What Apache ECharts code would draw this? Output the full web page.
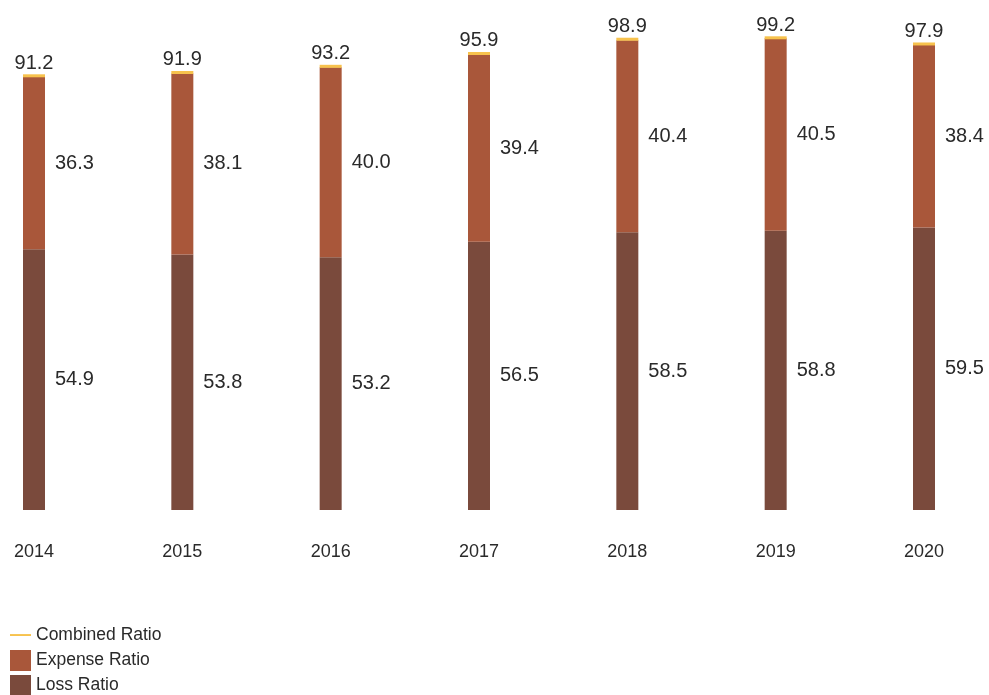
<!DOCTYPE html>
<html><head><meta charset="utf-8">
<script src="https://cdn.jsdelivr.net/npm/echarts@6/dist/echarts.min.js"></script>
<style>html,body{margin:0;padding:0;background:#fff}#c{width:989px;height:695px}</style>
</head><body><div id="c"></div>
<script>
const years = ['2014','2015','2016','2017','2018','2019','2020'];
const lossRatio = [54.9, 53.8, 53.2, 56.5, 58.5, 58.8, 59.5];
const expenseRatio = [36.3, 38.1, 40.0, 39.4, 40.4, 40.5, 38.4];
const combinedRatio = [91.2, 91.9, 93.2, 95.9, 98.9, 99.2, 97.9];

const FONT = 'Liberation Sans';
const TXT = '#2a2a2a';
const chart = echarts.init(document.getElementById('c'));
chart.setOption({
  animation: false,
  textStyle: { fontFamily: FONT },
  grid: { left: 34, right: 65, top: 35, bottom: 185 },
  xAxis: {
    type: 'category', data: years, boundaryGap: false,
    axisLine: { show: false }, axisTick: { show: false },
    axisLabel: { margin: 33, fontSize: 18, color: TXT, fontFamily: FONT }
  },
  yAxis: { type: 'value', min: 0, max: 100, show: false, splitLine: { show: false } },
  legend: {
    orient: 'vertical', left: 10, top: 625, height: 90, padding: 0,
    itemWidth: 21, itemHeight: 21, itemGap: 4,
    textStyle: { fontSize: 17.5, color: TXT, fontFamily: FONT },
    data: [
      { name: 'Combined Ratio', icon: 'path://M0,0M0,9.5H22V11.5H0ZM22,22L22,22' },
      { name: 'Expense Ratio', icon: 'rect' },
      { name: 'Loss Ratio', icon: 'rect' }
    ]
  },
  series: [
    {
      name: 'Loss Ratio', type: 'bar', stack: 'r', barWidth: 22, data: lossRatio,
      itemStyle: { color: '#7a4a3c' },
      label: { show: true, position: 'right', distance: 10, fontSize: 20, color: TXT, fontFamily: FONT, formatter: p => p.value.toFixed(1) }
    },
    {
      name: 'Expense Ratio', type: 'bar', stack: 'r', barWidth: 22, data: expenseRatio,
      itemStyle: { color: '#a9573a' },
      label: { show: true, position: 'right', distance: 10, fontSize: 20, color: TXT, fontFamily: FONT, formatter: p => p.value.toFixed(1) }
    },
    {
      name: 'Combined Ratio', type: 'scatter', data: combinedRatio,
      symbol: 'rect', symbolSize: [22, 3], symbolOffset: [0, -1],
      itemStyle: { color: '#f7c24d', opacity: 1 }, z: 5,
      label: { show: true, position: 'top', distance: 1, fontSize: 20, color: TXT, fontFamily: FONT, formatter: p => p.value.toFixed(1) }
    }
  ]
});
</script></body></html>
